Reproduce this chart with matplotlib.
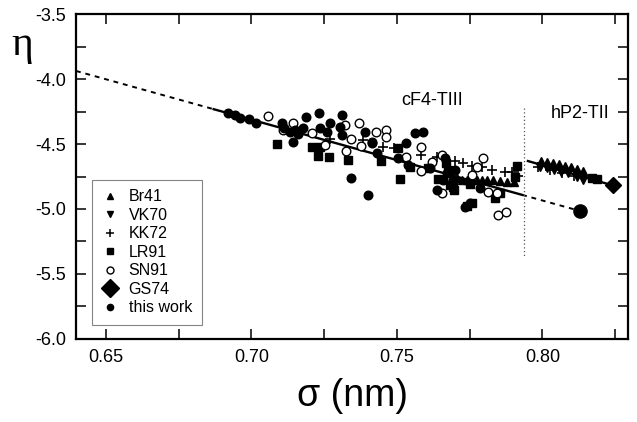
import numpy as np
import matplotlib
matplotlib.use("Agg")
import matplotlib.pyplot as plt
from matplotlib.lines import Line2D

plt.rcParams["font.family"] = ["Liberation Sans", "DejaVu Sans"]

# ── data (sigma in nm, eta) ───────────────────────────────────────────────────
br41_sig = [0.7706, 0.7723, 0.7740, 0.7758, 0.7775, 0.7792, 0.7809, 0.7830, 0.7854, 0.7878, 0.7902,
            0.7995, 0.8015, 0.8036, 0.8057, 0.8077, 0.8098, 0.8118, 0.8139]
br41_eta = [-4.762, -4.777, -4.777, -4.777, -4.777, -4.777, -4.777, -4.777, -4.785, -4.792, -4.792,
            -4.631, -4.638, -4.646, -4.654, -4.669, -4.677, -4.692, -4.708]

vk70_sig = [0.7991, 0.8015, 0.8039, 0.8063, 0.8087, 0.8118, 0.8139]
vk70_eta = [-4.677, -4.685, -4.700, -4.715, -4.723, -4.754, -4.777]

kk72_sig = [0.7270, 0.7383, 0.7452, 0.7490, 0.7582, 0.7637, 0.7699, 0.7727, 0.7758, 0.7792,
            0.7826, 0.7871, 0.7895, 0.7916, 0.7984, 0.8026, 0.8067, 0.8108]
kk72_eta = [-4.462, -4.469, -4.523, -4.531, -4.585, -4.600, -4.631, -4.646, -4.669, -4.677,
            -4.700, -4.715, -4.715, -4.746, -4.677, -4.700, -4.723, -4.746]

lr91_sig = [0.7088, 0.7208, 0.7235, 0.7228, 0.7266, 0.7332, 0.7445, 0.7510, 0.7503, 0.7545,
            0.7641, 0.7682, 0.7696, 0.7740, 0.7758, 0.7751, 0.7675, 0.7668, 0.7606, 0.7912,
            0.7692, 0.7837, 0.7854, 0.7905, 0.8170, 0.8187]
lr91_eta = [-4.500, -4.523, -4.523, -4.592, -4.600, -4.623, -4.631, -4.769, -4.531, -4.677,
            -4.769, -4.815, -4.854, -4.977, -4.954, -4.808, -4.700, -4.646, -4.685, -4.669,
            -4.831, -4.915, -4.877, -4.754, -4.762, -4.769]

sn91_sig = [0.7057, 0.7108, 0.7143, 0.7208, 0.7252, 0.7321, 0.7369, 0.7428, 0.7462, 0.7462,
            0.7342, 0.7325, 0.7376, 0.7414, 0.7531, 0.7582, 0.7582, 0.7620, 0.7655, 0.7655,
            0.7775, 0.7795, 0.7758, 0.7813, 0.7847, 0.7874, 0.7844]
sn91_eta = [-4.285, -4.392, -4.338, -4.415, -4.508, -4.354, -4.338, -4.408, -4.392, -4.446,
            -4.462, -4.554, -4.515, -4.485, -4.600, -4.523, -4.708, -4.638, -4.585, -4.877,
            -4.677, -4.608, -4.738, -4.869, -5.046, -5.023, -4.877]

gs74_sig = [0.8242]
gs74_eta = [-4.815]

work_sig = [0.6919, 0.6943, 0.6960, 0.6991, 0.7015, 0.7105, 0.7112, 0.7149, 0.7160, 0.7187,
            0.7232, 0.7270, 0.7235, 0.7259, 0.7143, 0.7311, 0.7304, 0.7311, 0.7390, 0.7342,
            0.7400, 0.7431, 0.7531, 0.7562, 0.7589, 0.7665, 0.7699, 0.7637, 0.7538, 0.7613,
            0.7672, 0.7658, 0.7692, 0.7785, 0.7751, 0.7734, 0.7177, 0.7132, 0.7414, 0.7503]
work_eta = [-4.262, -4.277, -4.300, -4.308, -4.338, -4.338, -4.377, -4.392, -4.423, -4.292,
            -4.262, -4.338, -4.377, -4.408, -4.485, -4.277, -4.369, -4.431, -4.408, -4.762,
            -4.892, -4.569, -4.492, -4.415, -4.408, -4.608, -4.700, -4.854, -4.662, -4.685,
            -4.723, -4.777, -4.777, -4.838, -4.954, -4.985, -4.377, -4.408, -4.492, -4.608]

# large end point of the cF4 extrapolation
end_sig = [0.8129]
end_eta = [-5.015]

# fitted lines: cF4-TIII (dashed extrapolation, solid over data), hP2-TII
cf4_line_sig = [0.6397, 0.8129]
cf4_line_eta = [-3.938, -5.015]
cf4_solid_range = [0.687, 0.793]
hp2_line_sig = [0.7950, 0.8249]
hp2_line_eta = [-4.631, -4.823]

boundary_sig = 0.7936
boundary_eta = [-4.22, -5.36]


def main():
    fig = plt.figure(figsize=(6.37, 4.22), dpi=100)
    ax = fig.add_axes([0.1193, 0.1967, 0.8666, 0.7701])

    # lines
    slope = (cf4_line_eta[1] - cf4_line_eta[0]) / (cf4_line_sig[1] - cf4_line_sig[0])
    f = lambda s: cf4_line_eta[0] + slope * (np.asarray(s) - cf4_line_sig[0])
    ax.plot([cf4_line_sig[0], cf4_solid_range[0]], f([cf4_line_sig[0], cf4_solid_range[0]]),
            color="black", lw=1.4, ls=(0, (2.5, 2.5)))
    ax.plot(cf4_solid_range, f(cf4_solid_range), color="black", lw=1.7)
    ax.plot([cf4_solid_range[1], cf4_line_sig[1]], f([cf4_solid_range[1], cf4_line_sig[1]]),
            color="black", lw=1.4, ls=(0, (2.5, 2.5)))
    ax.plot(hp2_line_sig, hp2_line_eta, color="black", lw=1.7)
    ax.plot([boundary_sig, boundary_sig], boundary_eta, color="#555555", lw=0.9,
            ls=(0, (1, 2)))

    # data
    ax.plot(br41_sig, br41_eta, "^", color="black", ms=5.5, ls="none")
    ax.plot(vk70_sig, vk70_eta, "v", color="black", ms=5.5, ls="none")
    ax.plot(kk72_sig, kk72_eta, "+", color="black", ms=6.5, mew=1.2, ls="none")
    ax.plot(lr91_sig, lr91_eta, "s", color="black", ms=5.3, ls="none")
    ax.plot(sn91_sig, sn91_eta, "o", mfc="white", mec="black", mew=1.0, ms=6.2, ls="none")
    ax.plot(work_sig, work_eta, "o", color="black", ms=6.2, ls="none")
    ax.plot(end_sig, end_eta, "o", color="black", ms=9.5, ls="none")
    ax.plot(gs74_sig, gs74_eta, "D", color="black", ms=8.5, ls="none")

    ax.text(0.7620, -4.169, "cF4-TIII", ha="center", va="center", fontsize=13)
    ax.text(0.8129, -4.262, "hP2-TII", ha="center", va="center", fontsize=13)

    # axes
    ax.set_xlim(0.6397, 0.8294)
    ax.set_ylim(-6.0, -3.5)
    ax.set_xticks(np.arange(0.65, 0.8001, 0.05))
    ax.set_xticklabels(["0.65", "0.70", "0.75", "0.80"])
    ax.set_xticks(np.arange(0.675, 0.83, 0.05), minor=True)
    ax.set_yticks(np.arange(-6.0, -3.49, 0.5))
    ax.set_yticklabels(["-6.0", "-5.5", "-5.0", "-4.5", "-4.0", "-3.5"])
    ax.set_yticks(np.arange(-5.75, -3.6, 0.5), minor=True)
    ax.tick_params(which="both", direction="in", top=True, right=True,
                   length=7, width=1.1, labelsize=13, pad=7)
    for sp in ax.spines.values():
        sp.set_linewidth(1.6)

    fig.text(0.0345, 0.893, "η", fontsize=30, family=["Liberation Serif", "DejaVu Serif"],
             ha="center", va="center")
    fig.text(0.553, 0.062, "σ (nm)", fontsize=27, ha="center", va="center")

    handles = [
        Line2D([], [], marker="^", color="black", ls="none", ms=5),
        Line2D([], [], marker="v", color="black", ls="none", ms=5),
        Line2D([], [], marker="+", color="black", ls="none", ms=6, mew=1.1),
        Line2D([], [], marker="s", color="black", ls="none", ms=5),
        Line2D([], [], marker="o", mfc="white", mec="black", ls="none", ms=5),
        Line2D([], [], marker="D", color="black", ls="none", ms=9),
        Line2D([], [], marker="o", color="black", ls="none", ms=4.5),
    ]
    labels = ["Br41", "VK70", "KK72", "LR91", "SN91", "GS74", "this work"]
    leg = ax.legend(handles, labels, loc="lower left", bbox_to_anchor=(0.029, 0.043),
                    borderaxespad=0, fontsize=11.5, frameon=True, fancybox=False,
                    handlelength=1.0, handletextpad=0.7, labelspacing=0.22,
                    borderpad=0.6)
    leg.get_frame().set_edgecolor("#666666")
    leg.get_frame().set_linewidth(0.8)

    fig.savefig("out.png", dpi=100)
    plt.close()


if __name__ == "__main__":
    main()
